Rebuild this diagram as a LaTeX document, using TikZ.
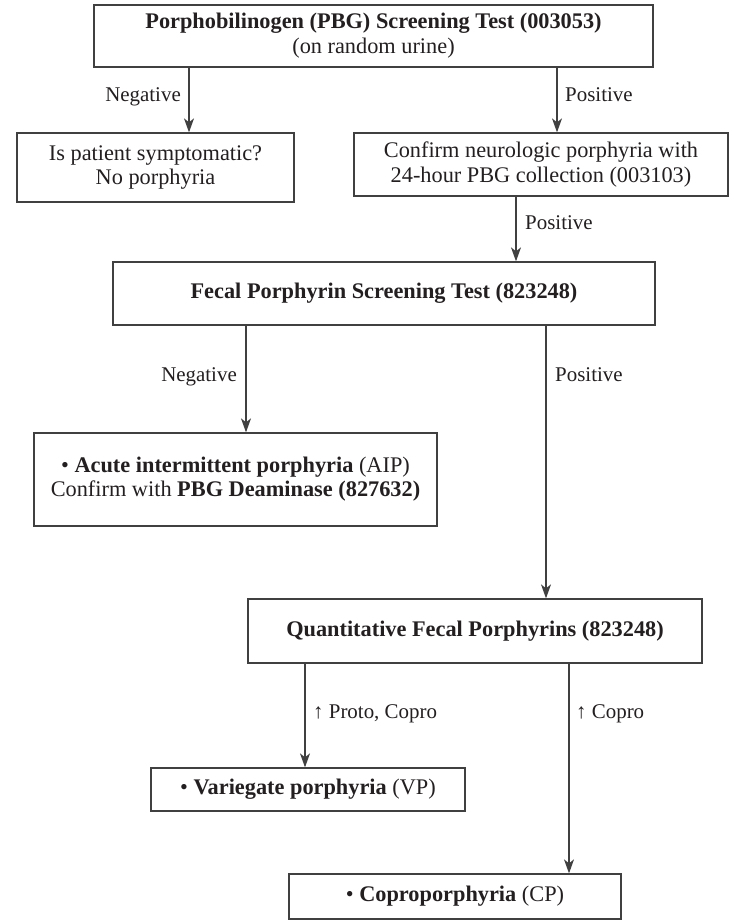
\documentclass[tikz,border=0pt]{standalone}
\usepackage{fontspec}
\setmainfont{Liberation Serif}
\usetikzlibrary{arrows.meta}
\definecolor{linec}{HTML}{404040}
\definecolor{textc}{HTML}{231F20}
\begin{document}
\begin{tikzpicture}[x=1bp,y=-1bp,
  box/.style={draw=linec, line width=1.3bp, inner sep=0pt, align=center,
    font=\fontsize{22.4}{25}\selectfont, text=textc},
  arr/.style={draw=linec, line width=1.1bp, -{Stealth[length=14bp,width=10bp,inset=4bp]}},
  lab/.style={font=\fontsize{21}{25}\selectfont, text=textc, inner sep=0pt}]
\useasboundingbox[fill=white] (0,0) rectangle (730,921);

\node[box, minimum width=559bp, minimum height=62bp] (top) at (373.5,36)
  {\textbf{Porphobilinogen (PBG) Screening Test (003053)}\\(on random urine)};
\node[box, minimum width=277bp, minimum height=69bp] (neg) at (155.5,167.5)
  {Is patient symptomatic?\\No porphyria};
\node[box, minimum width=374bp, minimum height=63bp] (pos) at (541,164.5)
  {Confirm neurologic porphyria with\\24-hour PBG collection (003103)};
\node[box, minimum width=542bp, minimum height=63bp] (fecal) at (384,293.5)
  {\textbf{Fecal Porphyrin Screening Test (823248)}};
\node[box, minimum width=403bp, minimum height=93bp] (aip) at (235.5,479.5)
  {\raisebox{4bp}{\begin{tabular}{@{}c@{}}• \textbf{Acute intermittent porphyria} (AIP)\\Confirm with \textbf{PBG Deaminase (827632)}\end{tabular}}};
\node[box, minimum width=454bp, minimum height=64bp] (quant) at (475,631)
  {\textbf{Quantitative Fecal Porphyrins (823248)}};
\node[box, minimum width=314bp, minimum height=43bp] (vp) at (308,789.5)
  {• \textbf{Variegate porphyria} (VP)};
\node[box, minimum width=332bp, minimum height=45bp] (cp) at (455,896.5)
  {• \textbf{Coproporphyria} (CP)};

\coordinate (xa) at (189,0);
\coordinate (xb) at (557,0);
\coordinate (xc) at (516,0);
\coordinate (xd) at (246,0);
\coordinate (xe) at (546,0);
\coordinate (xf) at (305,0);
\coordinate (xg) at (569,0);

\draw[arr] (top.south -| xa) -- (neg.north -| xa);
\draw[arr] (top.south -| xb) -- (pos.north -| xb);
\draw[arr] (pos.south -| xc) -- (fecal.north -| xc);
\draw[arr] (fecal.south -| xd) -- (aip.north -| xd);
\draw[arr] (fecal.south -| xe) -- (quant.north -| xe);
\draw[arr] (quant.south -| xf) -- (vp.north -| xf);
\draw[arr] (quant.south -| xg) -- (cp.north -| xg);

\node[lab, anchor=base east] (l1) at (181,101) {Negative};
\node[lab, anchor=base west] (l2) at (565,101) {Positive};
\node[lab, anchor=base west] (l3) at (525,229) {Positive};
\node[lab, anchor=base east] (l4) at (237,381) {Negative};
\node[lab, anchor=base west] (l5) at (555,381) {Positive};
\node[lab, anchor=base west] (l6) at (313,718) {↑ Proto, Copro};
\node[lab, anchor=base west] (l7) at (576,718) {↑ Copro};
\end{tikzpicture}
\end{document}
